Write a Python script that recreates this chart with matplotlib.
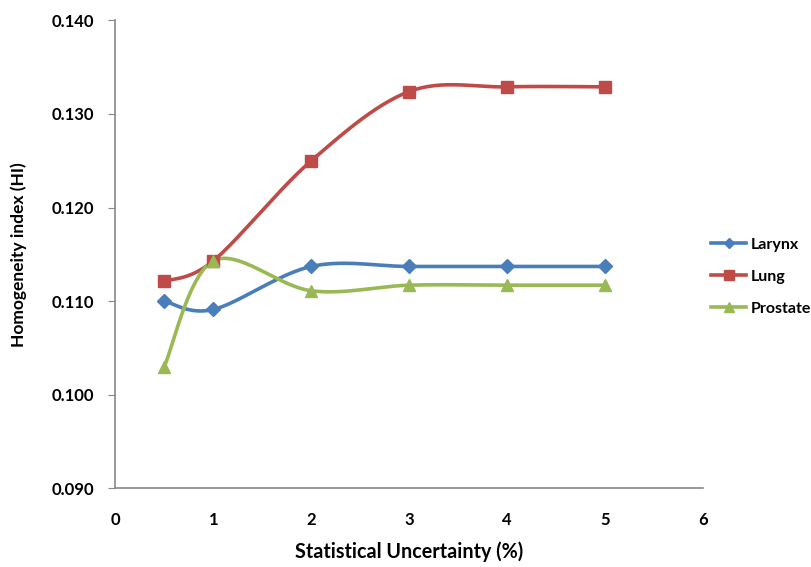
import numpy as np
import matplotlib
matplotlib.use("Agg")
import matplotlib.pyplot as plt
from matplotlib.lines import Line2D

x_vals = [0.5, 1, 2, 3, 4, 5]
larynx = [0.1100, 0.1091, 0.1137, 0.1137, 0.1137, 0.1137]
lung = [0.1121, 0.1143, 0.1250, 0.1324, 0.1329, 0.1329]
prostate = [0.1030, 0.1143, 0.1111, 0.1117, 0.1117, 0.1117]
series_names = ["Larynx", "Lung", "Prostate"]
x_ticks = [0, 1, 2, 3, 4, 5, 6]
y_ticks = [0.090, 0.100, 0.110, 0.120, 0.130, 0.140]

colors = ["#4A7EBB", "#BE4B48", "#98B954"]
markers = ["D", "s", "^"]
msizes = [7, 9, 9]

plt.rcParams['font.family'] = ['Lato', 'DejaVu Sans']
plt.rcParams['font.weight'] = 'bold'

fig = plt.figure(figsize=(8.12, 5.67), dpi=100)
ax = fig.add_axes([0.142, 0.139, 0.724, 0.825])

sx, sy = 98.0, 9350.0  # approximate pixel scale for smoothing


def smooth(xs, ys, n=40):
    P = np.column_stack([np.array(xs) * sx, np.array(ys) * sy])
    out = []
    m = len(P)
    for i in range(m - 1):
        p0 = P[i - 1] if i > 0 else P[i]
        p1 = P[i]
        p2 = P[i + 1]
        p3 = P[i + 2] if i + 2 < m else P[i + 1]
        c1 = p1 + (p2 - p0) / 6.0
        c2 = p2 - (p3 - p1) / 6.0
        t = np.linspace(0, 1, n)[:, None]
        seg = ((1 - t) ** 3) * p1 + 3 * ((1 - t) ** 2) * t * c1 + 3 * (1 - t) * t ** 2 * c2 + t ** 3 * p2
        out.append(seg if i == 0 else seg[1:])
    out = np.vstack(out)
    return out[:, 0] / sx, out[:, 1] / sy


handles = []
for ys, c, mk, ms, name in zip([larynx, lung, prostate], colors, markers, msizes, series_names):
    xs_s, ys_s = smooth(x_vals, ys)
    ax.plot(xs_s, ys_s, color=c, lw=2.6, solid_capstyle='round', zorder=2)
    ax.plot(x_vals, ys, linestyle='none', marker=mk, ms=ms, color=c, mec=c, zorder=3)
    handles.append(Line2D([0], [0], color=c, lw=2.6, marker=mk, ms=ms * 0.75, mec=c))

ax.set_xlim(0, 6)
ax.set_ylim(0.090, 0.140)
ax.set_xticks(x_ticks)
ax.set_yticks(y_ticks)
ax.set_yticklabels([f"{v:.3f}" for v in y_ticks])
ax.set_xticklabels([str(v) for v in x_ticks])

for s in ['top', 'right']:
    ax.spines[s].set_visible(False)
for s in ['left', 'bottom']:
    ax.spines[s].set_color('#888888')
    ax.spines[s].set_linewidth(1.2)
ax.tick_params(axis='y', direction='out', length=5, color='#888888', labelsize=12, pad=10)
ax.tick_params(axis='x', length=0, labelsize=12, pad=17)

ax.set_xlabel("Statistical Uncertainty (%)", fontsize=14.2, fontweight='bold', labelpad=10)
ax.set_ylabel("Homogeneity index (HI)", fontsize=12.5, fontweight='bold', labelpad=18)

leg = fig.legend(handles, series_names, loc='center left', bbox_to_anchor=(0.876, 0.512),
                 frameon=False, fontsize=11.5, handlelength=2.2, labelspacing=1.1,
                 handletextpad=0.3, borderpad=0.0, borderaxespad=0.0)

fig.savefig("out.png", dpi=100)
